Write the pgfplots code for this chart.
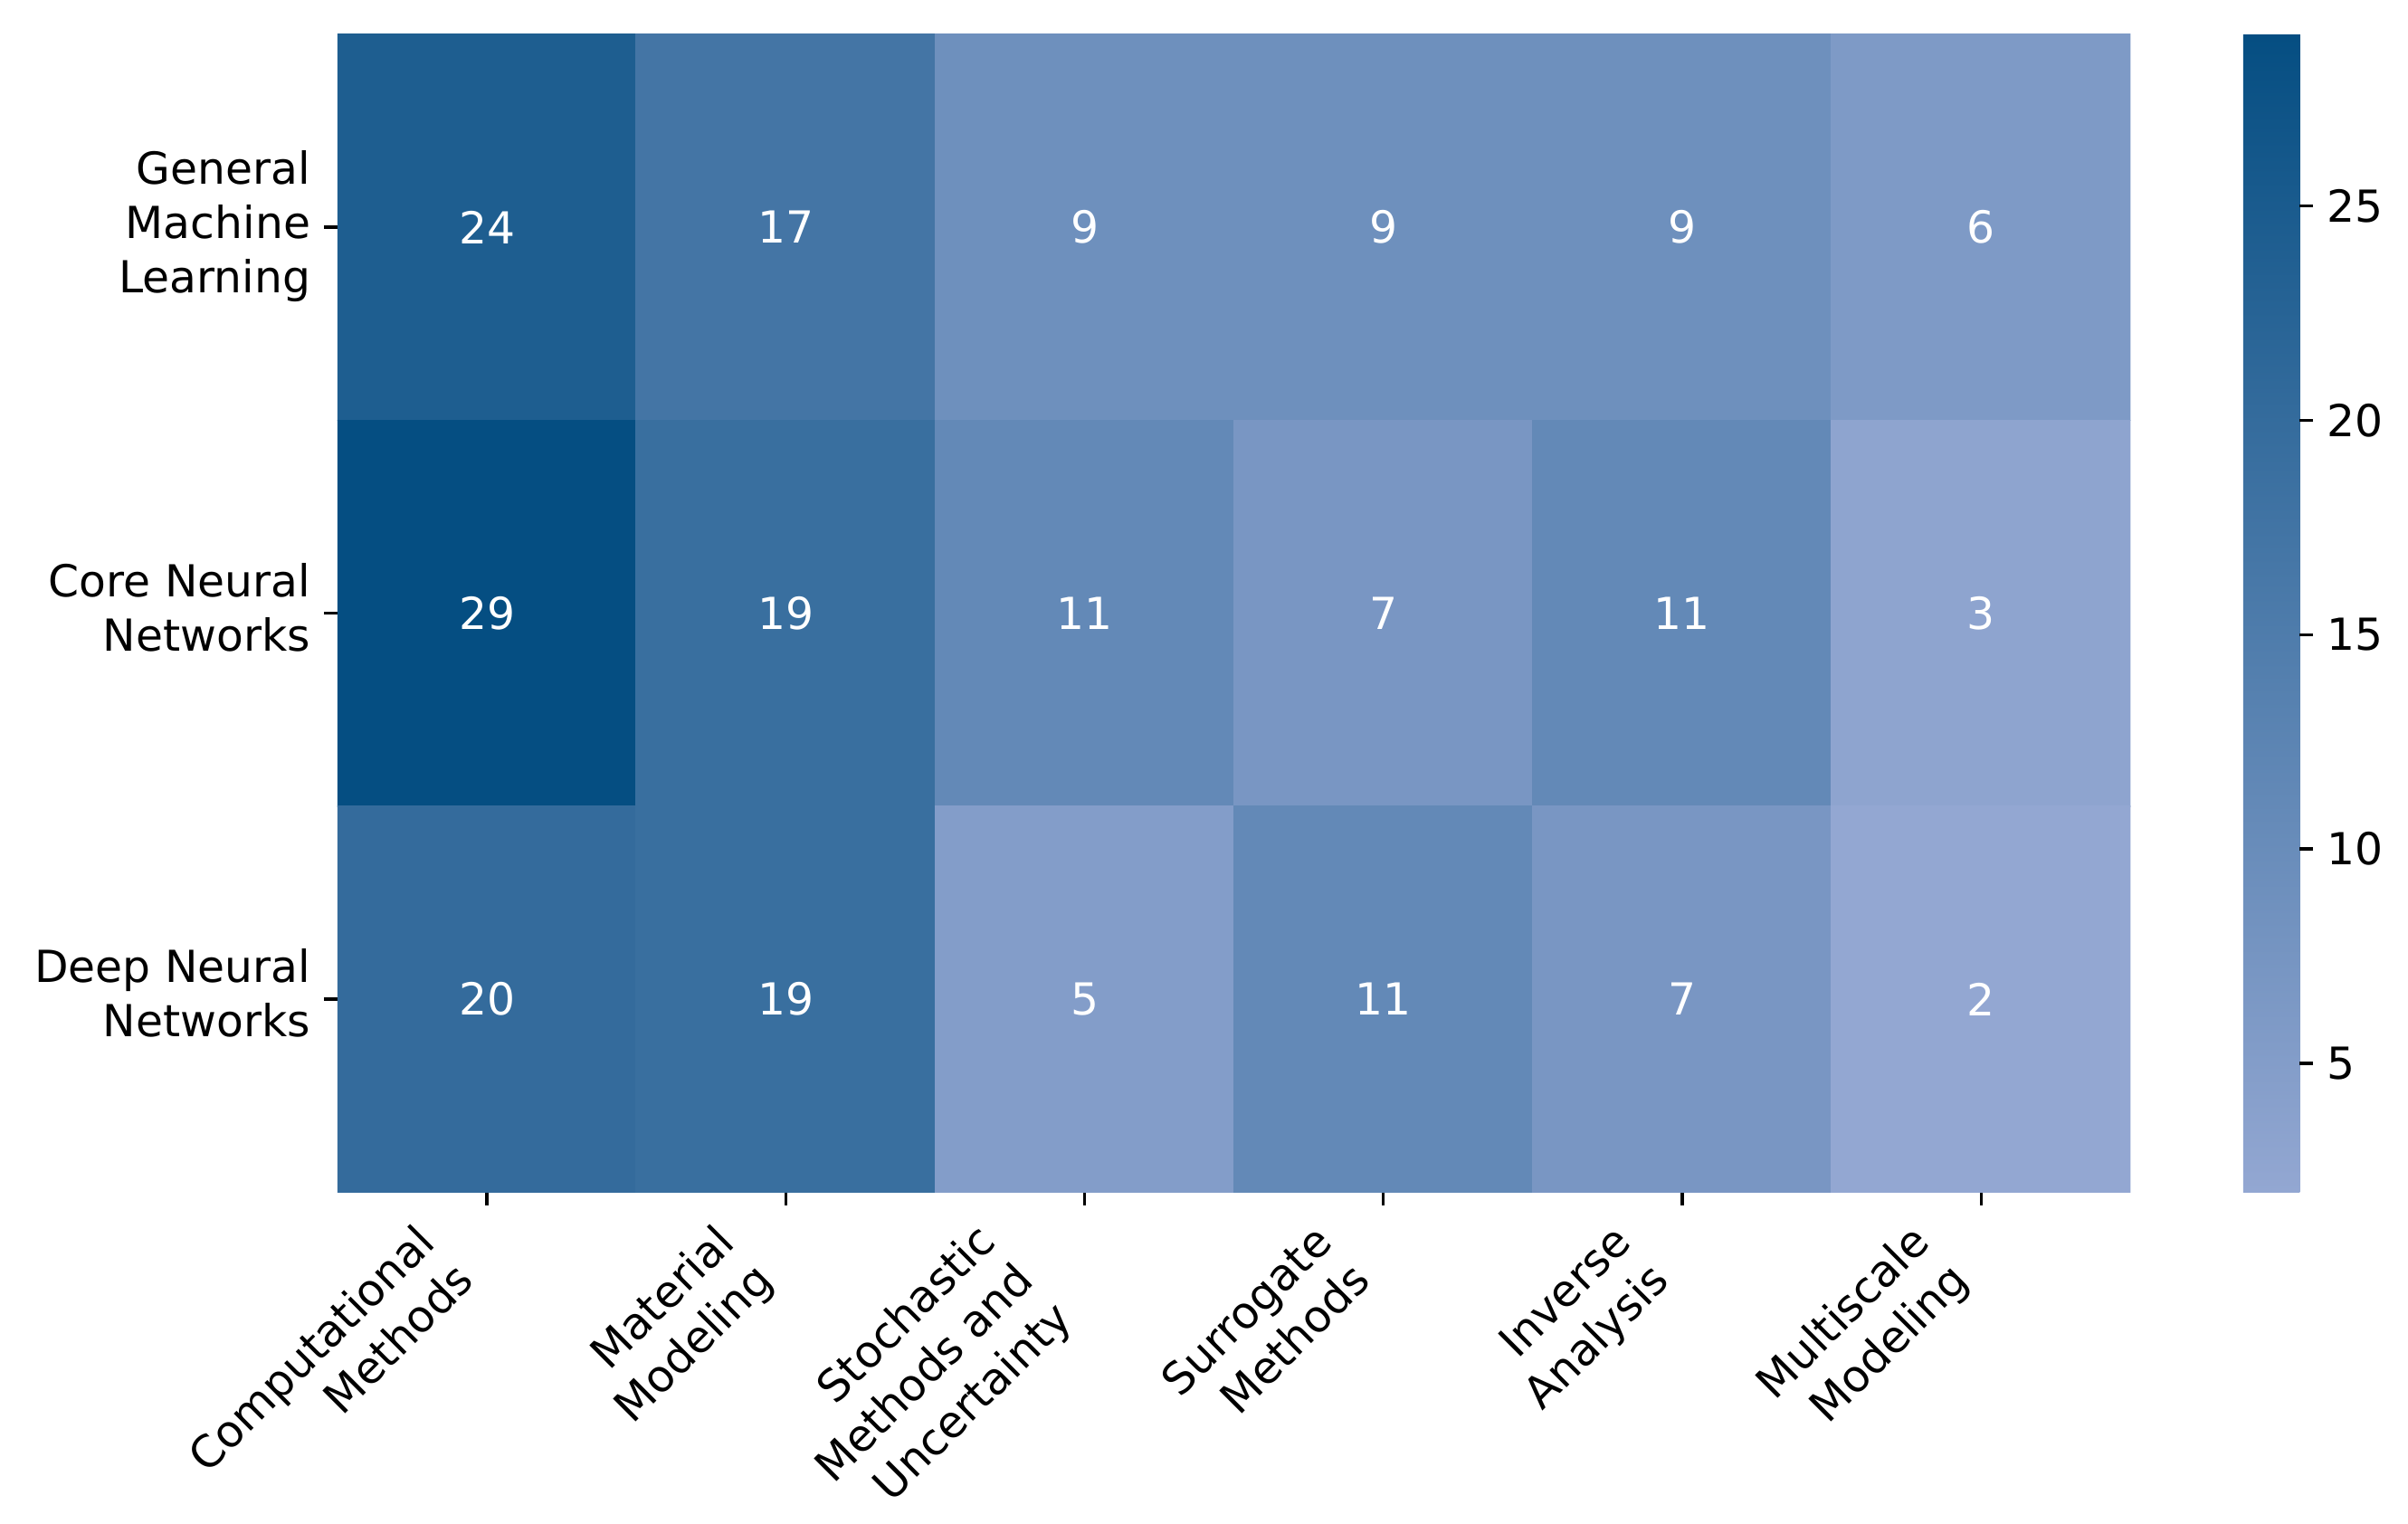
\documentclass[border=0pt]{standalone}
\usepackage{fontspec}
\setmainfont{DejaVu Sans}
\usepackage{pgfplots}
\pgfplotsset{compat=1.18}
\usepackage{pgfplotstable}

% heatmap cells: column (x), row (y), count
\pgfplotstableread{
x y c
0 0 24
1 0 17
2 0 9
3 0 9
4 0 9
5 0 6
0 1 29
1 1 19
2 1 11
3 1 7
4 1 11
5 1 3
0 2 20
1 2 19
2 2 5
3 2 11
4 2 7
5 2 2
}\heat

\newcommand{\lab}[2]{\begin{tabular}{@{}r@{}}#1\end{tabular}\hspace*{#2}}
\newcommand{\fs}{\fontsize{11.7bp}{14.4bp}\selectfont}

\begin{document}
\fs
\begin{tikzpicture}
\begin{axis}[
    name=main,
    scale only axis,
    width=475.5bp, height=307bp,
    xmin=-0.5, xmax=5.5,
    ymin=-0.5, ymax=2.5,
    y dir=reverse,
    enlargelimits=false,
    axis line style={draw=none},
    colormap={heat}{rgb255=(147,167,210) rgb255=(5,78,130)},
    point meta min=2, point meta max=29,
    % ticks
    xtick={0,...,5}, ytick={0,1,2},
    xtick pos=bottom, ytick pos=left,
    tick align=outside,
    major tick length=3.5bp,
    tick style={black, line width=0.8bp},
    xticklabels={
        {\lab{Computational\\Methods}{14bp}},
        {\lab{Material\\Modeling}{14bp}},
        {\lab{Stochastic\\Methods and\\Uncertainty}{21bp}},
        {\lab{Surrogate\\Methods}{14bp}},
        {\lab{Inverse\\Analysis}{14bp}},
        {\lab{Multiscale\\Modeling}{14bp}}},
    yticklabels={
        {\lab{General\\Machine\\Learning}{0pt}},
        {\lab{Core Neural\\Networks}{0pt}},
        {\lab{Deep Neural\\Networks}{0pt}}},
    ticklabel style={font=\fs},
    xticklabel style={inner sep=0pt, anchor=east, rotate=45},
    yticklabel style={inner sep=0pt, anchor=east},
    xticklabel shift=3.5bp,
    yticklabel shift=3.5bp,
    /pgf/number format/assume math mode=true,
    % colorbar
    colorbar,
    colorbar/width=15bp,
    colorbar style={
        at={(parent axis.north east)}, anchor=north west, xshift=21.4bp,
        scale only axis,
        width=15bp,
        xmin=0, xmax=1,
        y dir=normal,
        xtick=\empty,
        axis line style={draw=none},
        ytick={5,10,15,20,25},
        ytick pos=right,
        ytick align=outside,
        major tick length=3.5bp,
        tick style={black, line width=0.8bp},
        yticklabel style={inner sep=0pt, anchor=west, font=\fs, rotate=0},
        yticklabel shift=3.5bp,
        /pgf/number format/assume math mode=true,
    },
]
\addplot[matrix plot*, mesh/cols=6, mesh/rows=3, point meta=explicit]
    table[x=x, y=y, meta=c] {\heat};
\addplot[only marks, mark=none, point meta=explicit,
    nodes near coords, nodes near coords align=center,
    every node near coord/.append style={white, font=\fs}]
    table[x=x, y=y, meta=c] {\heat};
\end{axis}
\pgfresetboundingbox
\useasboundingbox ([shift={(-89.5bp,-87.8bp)}]main.south west)
    rectangle ([shift={(73.6bp,9.1bp)}]main.north east);
\end{tikzpicture}
\end{document}
